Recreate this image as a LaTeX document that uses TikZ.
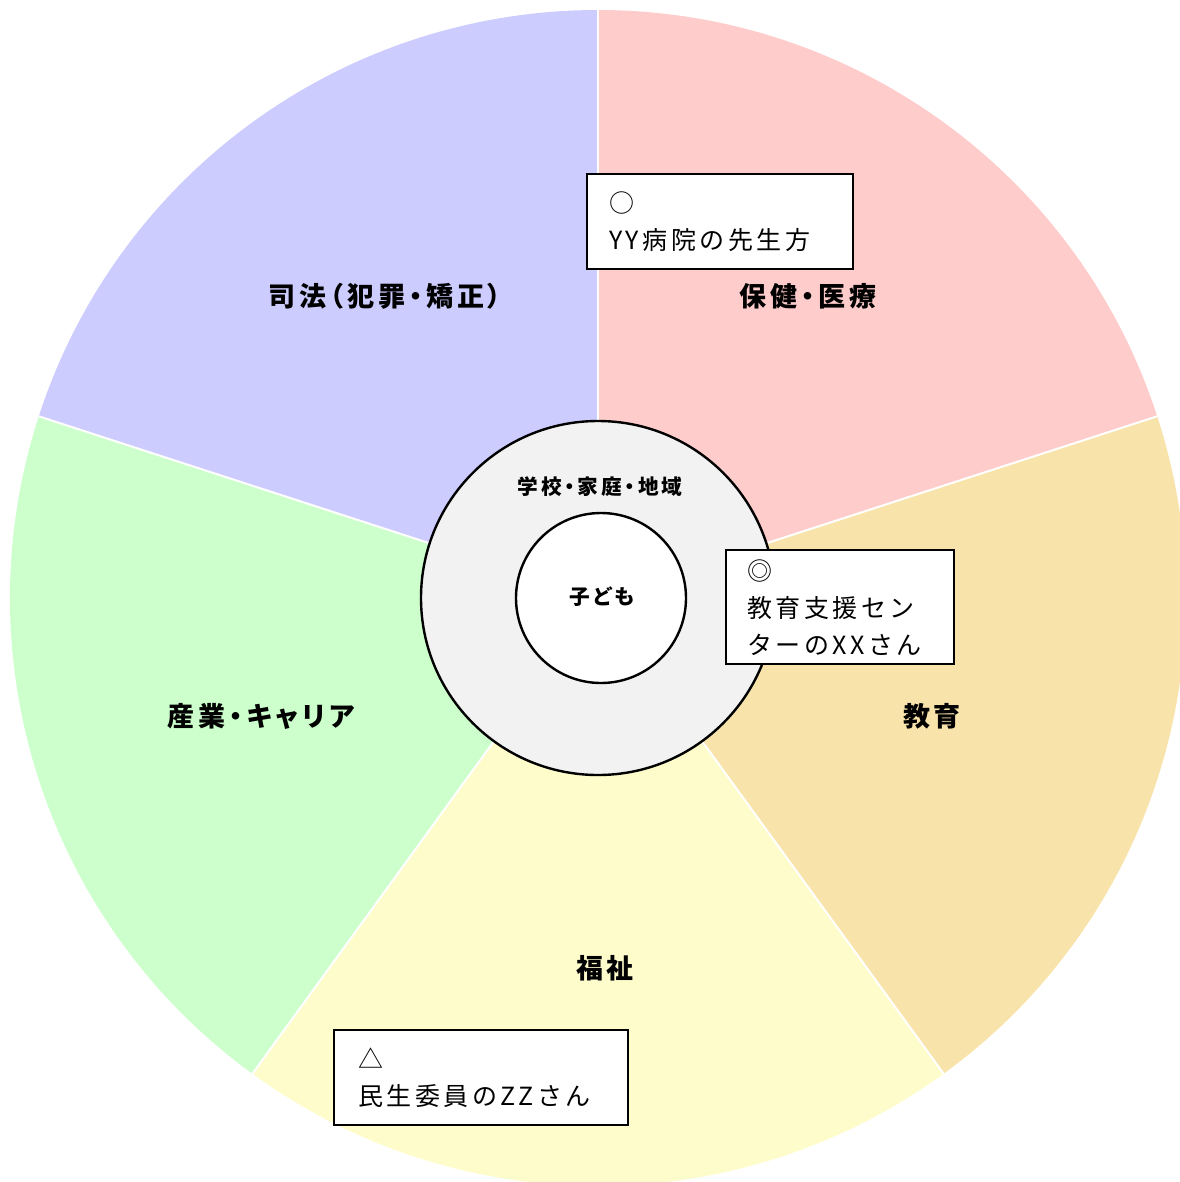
\documentclass[tikz,border=0pt]{standalone}
\usepackage{fontspec}
\setmainfont{Noto Sans CJK JP}
\newfontfamily\boxfont{Noto Sans CJK JP}[LetterSpace=14]
\newfontfamily\labelfont{Noto Sans CJK JP}[LetterSpace=14,RawFeature=+palt]
\definecolor{cPink}{HTML}{FFCCCC}
\definecolor{cWheat}{HTML}{F8E4AB}
\definecolor{cYellow}{HTML}{FFFCCC}
\definecolor{cGreen}{HTML}{CCFFCC}
\definecolor{cBlue}{HTML}{CCCCFF}
\definecolor{cGray}{HTML}{F2F2F2}
\begin{document}
\begin{tikzpicture}[x=0.75pt,y=-0.75pt,
  sector/.style={draw=white,line width=1.5pt},
  sectorlabel/.style={font=\labelfont\fontsize{20.25pt}{23pt}\selectfont\bfseries},
  centerlabel/.style={font=\labelfont\fontsize{15.5pt}{18pt}\selectfont\bfseries},
  notebox/.style={draw=black,fill=white,line width=1.8pt,align=left,anchor=north west,
    inner ysep=0pt,font=\boxfont\fontsize{18.75pt}{27.75pt}\selectfont},
  ring/.style={draw=black,line width=1.8pt,circle,inner sep=0pt}]
\useasboundingbox (0,0) rectangle (1180,1182);
\begin{scope}
\clip (0,0) rectangle (1180,1182);
\coordinate (c) at (598,598);
\fill[cPink] (c) -- ++(-90:588) arc[start angle=-90,end angle=-18,radius=588] -- cycle;
\fill[cWheat] (c) -- ++(-18:588) arc[start angle=-18,end angle=54,radius=588] -- cycle;
\fill[cYellow] (c) -- ++(54:588) arc[start angle=54,end angle=126,radius=588] -- cycle;
\fill[cGreen] (c) -- ++(126:588) arc[start angle=126,end angle=198,radius=588] -- cycle;
\fill[cBlue] (c) -- ++(198:588) arc[start angle=198,end angle=270,radius=588] -- cycle;
\foreach \a in {-90,-18,54,126,198} \draw[sector] (c) -- ++(\a:588);
\end{scope}
\node[sectorlabel] (hoken) at (808,296) {保健・医療};
\node[sectorlabel] (kyoiku) at (932,716) {教育};
\node[sectorlabel] (fukushi) at (605,968) {福祉};
\node[sectorlabel] (sangyo) at (261,716) {産業・キャリア};
\node[sectorlabel] (shiho) at (385,296) {司法（犯罪・矯正）};
\node[ring,fill=cGray,minimum size=265.5pt] (outer) at (598,598) {};
\node[ring,fill=white,minimum size=127.5pt] (inner) at (601,598) {};
\node[centerlabel] (gakko) at (600,487) {学校・家庭・地域};
\node[centerlabel] (kodomo) at (602,597) {子ども};
\node[notebox,inner xsep=16.5pt,text width=166.5pt,minimum height=71.25pt] (box1) at (586,173) {○\\YY病院の先生方};
\node[notebox,inner xsep=15.75pt,text width=139.5pt,minimum height=85.5pt] (box2) at (725,549) {◎\\教育支援セン\\ターのXXさん};
\node[notebox,inner xsep=18pt,text width=184.5pt,minimum height=71.25pt] (box3) at (333,1029) {△\\民生委員のZZさん};
\end{tikzpicture}
\end{document}
